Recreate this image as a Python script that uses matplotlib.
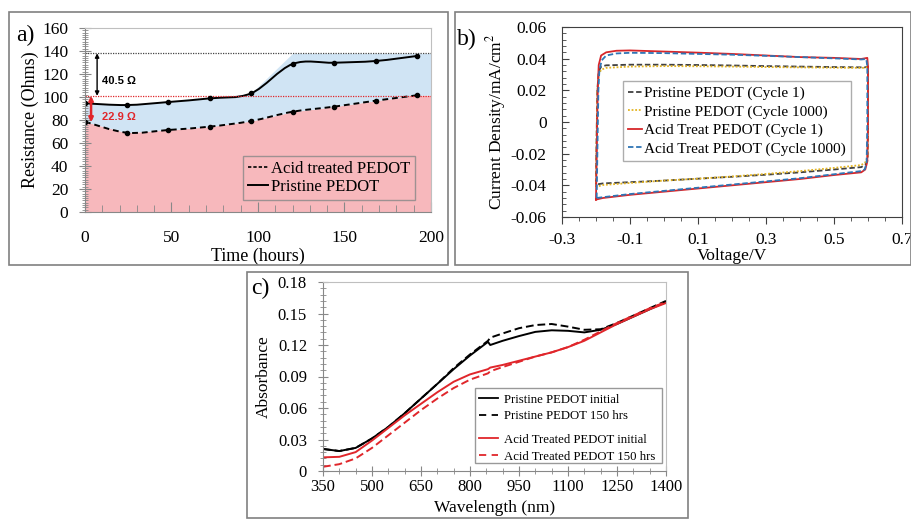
import numpy as np
import matplotlib
matplotlib.use('Agg')
import matplotlib.pyplot as plt
from matplotlib.path import Path
from matplotlib.patches import PathPatch, Rectangle
from matplotlib.lines import Line2D
from matplotlib.ticker import MultipleLocator, FixedLocator

plt.rcParams['font.family'] = 'Liberation Serif'
plt.rcParams['mathtext.fontset'] = 'stix'

# ---- panel a: resistance vs time ----
time_h = [0, 24, 48, 72, 96, 120, 144, 168, 192]
pristine_r = [94.5, 93, 95.6, 98.8, 103.2, 128.7, 129.8, 131.3, 135.7]
acid_r = [78.5, 69, 71.3, 74.2, 79.1, 87.2, 91.6, 96.8, 101.5]
top_level = 138
mid_level = 101

# ---- panel b: CV loops (voltage, current density) ----
red_v = [-0.2, -0.198, -0.195, -0.192, -0.185, -0.17, -0.14, -0.1, 0.0, 0.1, 0.2, 0.3, 0.4, 0.5, 0.58, 0.598,
         0.6, 0.6, 0.598, 0.592, 0.58, 0.5, 0.4, 0.3, 0.2, 0.1, 0.0, -0.1, -0.18, -0.2]
red_i = [-0.049, -0.02, 0.02, 0.036, 0.042, 0.044, 0.045, 0.0452, 0.0445, 0.0438, 0.043, 0.042, 0.041, 0.0405, 0.0398, 0.0405,
         0.035, 0.0, -0.025, -0.030, -0.0318, -0.0335, -0.036, -0.038, -0.040, -0.042, -0.044, -0.046, -0.048, -0.049]
blue_v = [-0.198, -0.196, -0.193, -0.19, -0.183, -0.17, -0.14, -0.1, 0.0, 0.1, 0.2, 0.3, 0.4, 0.5, 0.58, 0.595,
          0.598, 0.598, 0.596, 0.59, 0.58, 0.5, 0.4, 0.3, 0.2, 0.1, 0.0, -0.1, -0.18, -0.198]
blue_i = [-0.048, -0.02, 0.02, 0.033, 0.039, 0.042, 0.0433, 0.0437, 0.0435, 0.043, 0.0425, 0.0418, 0.041, 0.0402, 0.0395, 0.0398,
          0.035, 0.0, -0.026, -0.030, -0.031, -0.033, -0.0355, -0.0375, -0.0395, -0.0415, -0.0435, -0.0455, -0.0475, -0.048]
blk_v = [-0.2, -0.199, -0.196, -0.192, -0.185, -0.17, -0.1, 0.0, 0.1, 0.2, 0.3, 0.4, 0.5, 0.59,
         0.6, 0.6, 0.599, 0.592, 0.58, 0.5, 0.4, 0.3, 0.2, 0.1, 0.0, -0.1, -0.18, -0.2]
blk_i = [-0.0395, -0.02, 0.02, 0.032, 0.035, 0.0358, 0.0362, 0.0362, 0.036, 0.0357, 0.0353, 0.035, 0.0347, 0.0345,
         0.035, 0.0, -0.024, -0.027, -0.0285, -0.030, -0.0318, -0.0333, -0.0346, -0.0358, -0.037, -0.038, -0.0388, -0.0395]
yel_v = [-0.2, -0.199, -0.196, -0.192, -0.185, -0.17, -0.1, 0.0, 0.1, 0.2, 0.3, 0.4, 0.5, 0.59,
         0.6, 0.6, 0.599, 0.592, 0.58, 0.5, 0.4, 0.3, 0.2, 0.1, 0.0, -0.1, -0.18, -0.2]
yel_i = [-0.041, -0.02, 0.02, 0.030, 0.033, 0.0342, 0.035, 0.0353, 0.0352, 0.035, 0.0347, 0.0345, 0.0343, 0.0342,
         0.0348, 0.0, -0.022, -0.0255, -0.0272, -0.029, -0.031, -0.0328, -0.0344, -0.0358, -0.037, -0.0385, -0.0398, -0.041]

# ---- panel c: absorbance spectra ----
wl = [350, 400, 450, 500, 550, 600, 650, 700, 750, 800, 855, 862, 900, 950, 1000, 1050, 1100, 1150, 1200, 1250, 1300, 1350, 1400]
pris_init = [0.021, 0.019, 0.022, 0.031, 0.042, 0.055, 0.069, 0.083, 0.097, 0.110, 0.123, 0.120, 0.124, 0.1285, 0.1325,
             0.134, 0.1335, 0.132, 0.1345, 0.140, 0.147, 0.154, 0.161]
pris_150 = [0.021, 0.019, 0.022, 0.031, 0.042, 0.055, 0.069, 0.083, 0.098, 0.111, 0.124, 0.127, 0.131, 0.136, 0.139,
            0.140, 0.1375, 0.1345, 0.135, 0.141, 0.148, 0.155, 0.162]
acid_init = [0.013, 0.0135, 0.018, 0.029, 0.041, 0.053, 0.064, 0.075, 0.085, 0.092, 0.097, 0.0985, 0.101, 0.105, 0.109,
             0.113, 0.118, 0.124, 0.132, 0.140, 0.147, 0.154, 0.160]
acid_150 = [0.004, 0.0065, 0.012, 0.022, 0.034, 0.046, 0.058, 0.069, 0.079, 0.087, 0.093, 0.095, 0.099, 0.104, 0.109,
            0.113, 0.118, 0.125, 0.133, 0.141, 0.148, 0.155, 0.161]

W, H = 912, 519
fig = plt.figure(figsize=(9.12, 5.19), dpi=100)


def px_axes(left, top, right, bottom):
    return fig.add_axes([left / W, 1 - bottom / H, (right - left) / W, (bottom - top) / H])


def px_box(x0, y0, x1, y1):
    fig.add_artist(Rectangle((x0 / W, 1 - y1 / H), (x1 - x0) / W, (y1 - y0) / H,
                             transform=fig.transFigure, fill=False, ec='#808080', lw=1.2))


def smooth_path(xs, ys):
    # catmull-rom style smoothing drawn as bezier segments (like excel "smoothed line")
    pts = np.column_stack([xs, ys]).astype(float)
    n = len(pts)
    verts = [pts[0]]
    codes = [Path.MOVETO]
    for i in range(n - 1):
        p0, p1 = pts[max(i - 1, 0)], pts[i]
        p2, p3 = pts[i + 1], pts[min(i + 2, n - 1)]
        verts += [p1 + (p2 - p0) / 6, p2 - (p3 - p1) / 6, p2]
        codes += [Path.CURVE4] * 3
    return Path(verts, codes)


def style_spines(ax, dark, light):
    ax.spines['left'].set_color(dark)
    ax.spines['bottom'].set_color(dark)
    ax.spines['top'].set_color(light)
    ax.spines['right'].set_color(light)


px_box(9, 12, 448, 265)
px_box(455, 12, 911, 265)
px_box(247, 272, 688, 518)

# ---------------- panel a ----------------
ax = px_axes(85, 28, 431, 212)
t = np.array(time_h + [200])
acid_fill = np.array(acid_r + [acid_r[-1]])
upper = np.array([p if x < 120 else top_level for x, p in zip(time_h, pristine_r)] + [top_level])
ax.fill_between(t, 0, acid_fill, color='#F7B8BC', lw=0)
ax.fill_between(t, acid_fill, upper, color='#D0E4F4', lw=0)
ax.plot([0, 200], [top_level, top_level], color='#444444', ls=(0, (1, 1)), lw=0.9)
ax.plot([0, 200], [mid_level, mid_level], color='#E0262B', ls=(0, (1, 1)), lw=0.9)
ax.add_patch(PathPatch(smooth_path(time_h, pristine_r), fill=False, color='black', lw=1.4))
ax.add_patch(PathPatch(smooth_path(time_h, acid_r), fill=False, color='black', lw=1.4, ls=(0, (3, 2))))
ax.plot(time_h, pristine_r, 'o', color='black', ms=3)
ax.plot(time_h, acid_r, 'o', color='black', ms=3)
ax.annotate('', xy=(7, top_level), xytext=(7, mid_level), zorder=6,
            arrowprops=dict(arrowstyle='<|-|>', color='black', lw=1, mutation_scale=6, shrinkA=0, shrinkB=0))
ax.annotate('', xy=(3.5, mid_level), xytext=(3.5, 78), zorder=6,
            arrowprops=dict(arrowstyle='<|-|>', color='#E0262B', lw=1.8, mutation_scale=6, shrinkA=0, shrinkB=0))
ax.text(10, 114, '40.5 Ω', family='Liberation Sans', weight='bold', fontsize=8, va='center')
ax.text(10, 83, '22.9 Ω', family='Liberation Sans', weight='bold', fontsize=8, va='center', color='#E0262B')
ax.set_xlim(0, 200)
ax.set_ylim(0, 160)
ax.xaxis.set_major_locator(MultipleLocator(50))
ax.xaxis.set_minor_locator(MultipleLocator(10))
ax.yaxis.set_major_locator(MultipleLocator(20))
ax.yaxis.set_minor_locator(MultipleLocator(2))
ax.tick_params(axis='y', which='both', direction='inout', color='#888888', labelsize=12.5, pad=8)
ax.tick_params(axis='y', which='major', length=8)
ax.tick_params(axis='y', which='minor', length=5)
ax.tick_params(axis='x', which='both', direction='in', color='#888888', labelsize=12.5, pad=13)
ax.tick_params(axis='x', which='major', length=7)
ax.tick_params(axis='x', which='minor', length=5)
style_spines(ax, '#888888', '#BFBFBF')
ax.set_xlabel('Time (hours)', fontsize=13, labelpad=1)
ax.set_ylabel('Resistance (Ohms)', fontsize=13, labelpad=2)
h_a = [Line2D([], [], color='black', lw=1.2, ls=(0, (2, 1.2))), Line2D([], [], color='black', lw=1.4)]
leg = ax.legend(h_a, ['Acid treated PEDOT', 'Pristine PEDOT'], loc='lower right',
                bbox_to_anchor=(0.954, 0.065), borderaxespad=0, fontsize=12, handlelength=1.2,
                handletextpad=0.15, labelspacing=0.15, borderpad=0.3, frameon=True, fancybox=False)
leg.get_frame().set_facecolor('none')
leg.get_frame().set_edgecolor('#888888')
fig.text(16 / W, 1 - 35 / H, 'a)', fontsize=17, va='center', ha='left')

# ---------------- panel b ----------------
bx = px_axes(562, 27, 902, 217)
bx.plot(blk_v, blk_i, color='#404040', lw=1.3, ls=(0, (3, 1.5)), label='Pristine PEDOT (Cycle 1)')
bx.plot(yel_v, yel_i, color='#E3B422', lw=1.3, ls=(0, (1, 1)), label='Pristine PEDOT (Cycle 1000)')
bx.plot(red_v, red_i, color='#D7262A', lw=1.3, label='Acid Treat PEDOT (Cycle 1)')
bx.plot(blue_v, blue_i, color='#2F75B5', lw=1.3, ls=(0, (3, 1.5)), label='Acid Treat PEDOT (Cycle 1000)')
bx.set_xlim(-0.3, 0.7)
bx.set_ylim(-0.06, 0.06)
bx.xaxis.set_major_locator(FixedLocator([-0.3, -0.1, 0.1, 0.3, 0.5, 0.7]))
bx.set_xticklabels(['-0.3', '-0.1', '0.1', '0.3', '0.5', '0.7'])
bx.xaxis.set_minor_locator(MultipleLocator(0.05))
bx.yaxis.set_major_locator(FixedLocator([-0.06, -0.04, -0.02, 0, 0.02, 0.04, 0.06]))
bx.set_yticklabels(['-0.06', '-0.04', '-0.02', '0', '0.02', '0.04', '0.06'])
bx.yaxis.set_minor_locator(MultipleLocator(0.004))
bx.tick_params(axis='both', which='both', color='#404040', labelsize=12.5)
bx.tick_params(axis='y', which='both', direction='in', pad=11)
bx.tick_params(axis='y', which='major', length=5)
bx.tick_params(axis='y', which='minor', length=3)
bx.tick_params(axis='x', which='both', direction='out', pad=6)
bx.tick_params(axis='x', which='major', length=5)
bx.tick_params(axis='x', which='minor', length=3)
for s in bx.spines.values():
    s.set_color('#404040')
bx.set_xlabel('Voltage/V', fontsize=12.5, labelpad=0)
bx.set_ylabel('Current Density/mA/cm$^2$', fontsize=12.5, labelpad=2)
leg = bx.legend(loc='upper left', bbox_to_anchor=(0.179, 0.716), borderaxespad=0, fontsize=11,
                handlelength=0.9, handletextpad=0.15, labelspacing=0.3, borderpad=0.35,
                fancybox=False)
leg.get_frame().set_edgecolor('#999999')
fig.text(457 / W, 1 - 39 / H, 'b)', fontsize=17, va='center', ha='left')

# ---------------- panel c ----------------
cx = px_axes(323, 282, 666, 471)
cx.plot(wl, pris_init, color='black', lw=1.4)
cx.plot(wl, pris_150, color='black', lw=1.4, ls=(0, (4, 2)))
cx.plot(wl, acid_init, color='#E0262B', lw=1.4)
cx.plot(wl, acid_150, color='#E0262B', lw=1.4, ls=(0, (4, 2)))
cx.set_xlim(350, 1400)
cx.set_ylim(0, 0.18)
cx.xaxis.set_major_locator(FixedLocator([350, 500, 650, 800, 950, 1100, 1250, 1400]))
cx.xaxis.set_minor_locator(MultipleLocator(50))
cx.yaxis.set_major_locator(FixedLocator([0, 0.03, 0.06, 0.09, 0.12, 0.15, 0.18]))
cx.set_yticklabels(['0', '0.03', '0.06', '0.09', '0.12', '0.15', '0.18'])
cx.yaxis.set_minor_locator(MultipleLocator(0.006))
cx.tick_params(axis='both', which='both', direction='inout', color='#888888', labelsize=12)
cx.tick_params(axis='both', which='major', length=7)
cx.tick_params(axis='both', which='minor', length=5)
cx.tick_params(axis='x', which='both', pad=2)
cx.tick_params(axis='y', which='both', pad=8)
style_spines(cx, '#888888', '#BFBFBF')
cx.set_xlabel('Wavelength (nm)', fontsize=12.5, labelpad=4)
cx.set_ylabel('Absorbance', fontsize=12.5, labelpad=4)

# legend of c: two groups inside one frame, with a gap between them
cx.add_patch(Rectangle((0.443, 0.042), 0.545, 0.397, transform=cx.transAxes,
                       fc='white', ec='#999999', lw=1, zorder=4))
leg_kw = dict(loc='upper left', borderaxespad=0, borderpad=0, fontsize=9.2, handlelength=1.5,
              handletextpad=0.45, labelspacing=0.38, frameon=False)
h_c1 = [Line2D([], [], color='black', lw=1.3), Line2D([], [], color='black', lw=1.3, ls=(0, (4, 3)))]
h_c2 = [Line2D([], [], color='#E0262B', lw=1.3), Line2D([], [], color='#E0262B', lw=1.3, ls=(0, (4, 3)))]
leg1 = cx.legend(h_c1, ['Pristine PEDOT initial', 'Pristine PEDOT 150 hrs'],
                 bbox_to_anchor=(0.455, 0.41), **leg_kw)
leg1.set_zorder(5)
cx.add_artist(leg1)
leg2 = cx.legend(h_c2, ['Acid Treated PEDOT initial', 'Acid Treated PEDOT 150 hrs'],
                 bbox_to_anchor=(0.455, 0.197), **leg_kw)
leg2.set_zorder(5)
fig.text(251 / W, 1 - 288 / H, 'c)', fontsize=17, va='center', ha='left')

fig.savefig('out.png', dpi=100)
